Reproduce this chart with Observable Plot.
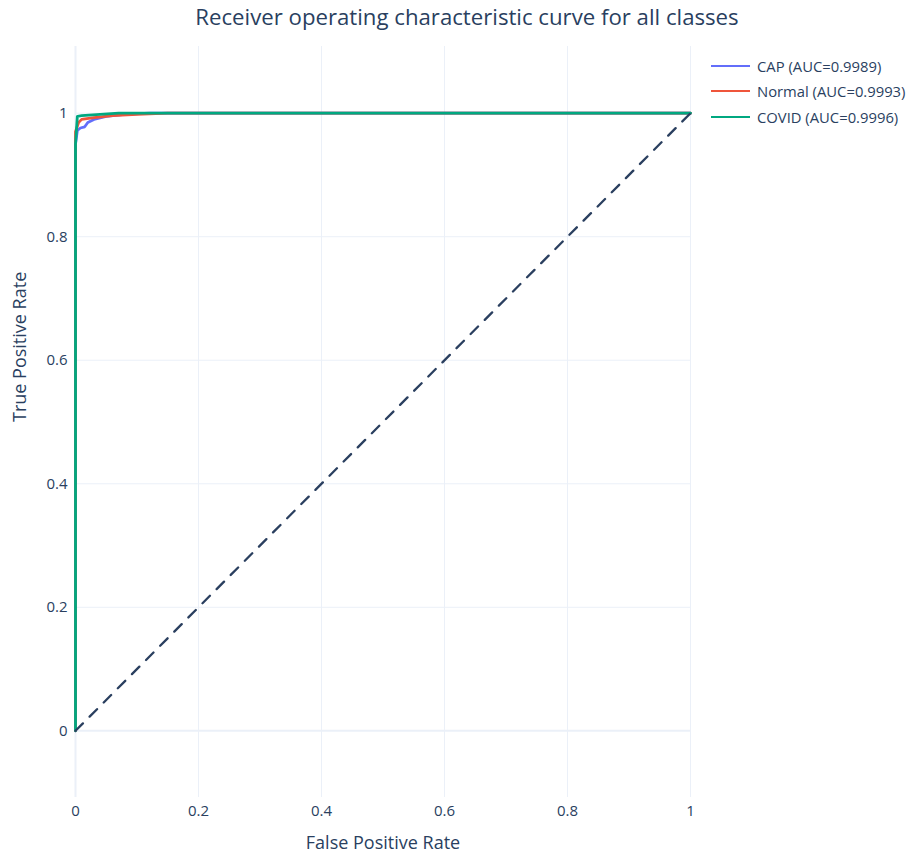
<!DOCTYPE html>
<html>
<head>
<meta charset="utf-8">
<script src="https://cdn.jsdelivr.net/npm/d3@7"></script>
<script src="https://cdn.jsdelivr.net/npm/@observablehq/plot@0.6"></script>
<style>
  body { margin: 0; background: #fff; font-family: "Open Sans", sans-serif; }
  #wrap { position: relative; width: 919px; height: 861px; }
  #title { position: absolute; top: 2px; left: 0; width: 934px; text-align: center; font-size: 22.2px; line-height: 30px; color: #2a3f5f; }
  #legend { position: absolute; left: 711px; top: 53px; font-size: 14.8px; color: #2a3f5f; }
  .row { height: 25.5px; display: flex; align-items: center; }
  .sw { width: 39px; height: 0; border-top: 2.5px solid; margin-right: 7px; }
</style>
</head>
<body>
<div id="wrap">
  <div id="title">Receiver operating characteristic curve for all classes</div>
  <div id="legend"></div>
</div>
<script>
const classes = ["CAP", "Normal", "COVID"];
const aucLabels = ["CAP (AUC=0.9989)", "Normal (AUC=0.9993)", "COVID (AUC=0.9996)"];
const colors = ["#636efa", "#EF553B", "#00a880"];

const capFpr = [0, 0, 0, 0.003, 0.008, 0.015, 0.02, 0.03, 0.05, 0.08, 0.12, 1];
const capTpr = [0, 0.6, 0.95, 0.972, 0.976, 0.978, 0.985, 0.99, 0.995, 0.998, 1, 1];
const normalFpr = [0, 0, 0, 0.005, 0.01, 0.03, 0.06, 0.1, 0.15, 1];
const normalTpr = [0, 0.9, 0.97, 0.985, 0.99, 0.993, 0.996, 0.998, 1, 1];
const covidFpr = [0, 0, 0.003, 0.01, 0.04, 0.07, 1];
const covidTpr = [0, 0.95, 0.995, 0.996, 0.998, 1, 1];

const xTicks = [0, 0.2, 0.4, 0.6, 0.8, 1];
const yTicks = [0, 0.2, 0.4, 0.6, 0.8, 1];
const diagonal = [[0, 0], [1, 1]];

const fprs = [capFpr, normalFpr, covidFpr];
const tprs = [capTpr, normalTpr, covidTpr];
const rows = [];
classes.forEach((c, i) => {
  fprs[i].forEach((f, j) => rows.push({cls: c, fpr: f, tpr: tprs[i][j]}));
});

const textColor = "#2a3f5f";
const gridColor = "#ebf0f8";

const chart = Plot.plot({
  width: 919,
  height: 861,
  marginTop: 46,
  marginLeft: 75,
  marginRight: 229,
  marginBottom: 64,
  style: {fontFamily: "Open Sans, sans-serif", color: textColor, background: "transparent"},
  x: {domain: [0, 1], axis: null},
  y: {domain: [-0.108, 1.108], axis: null},
  color: {domain: classes, range: colors},
  marks: [
    Plot.gridX(xTicks, {stroke: gridColor, strokeOpacity: 1, strokeWidth: d => d === 0 ? 2 : 1}),
    Plot.gridY(yTicks, {stroke: gridColor, strokeOpacity: 1, strokeWidth: d => d === 0 ? 2 : 1}),
    Plot.axisX(xTicks, {tickSize: 0, tickPadding: 8, fontSize: 15, tickFormat: d => String(d), fill: textColor, label: null}),
    Plot.axisY(yTicks, {tickSize: 0, tickPadding: 8, fontSize: 15, tickFormat: d => String(d), fill: textColor, label: null}),
    Plot.line(rows, {x: "fpr", y: "tpr", z: "cls", stroke: "cls", strokeWidth: 2.8, curve: "linear"}),
    Plot.line(diagonal, {x: d => d[0], y: d => d[1], stroke: textColor, strokeWidth: 2.3, strokeDasharray: "10.5,9.5"}),
    Plot.text(["False Positive Rate"], {frameAnchor: "bottom", dy: 51, fontSize: 18, fill: textColor}),
    Plot.text(["True Positive Rate"], {frameAnchor: "left", dx: -55, rotate: -90, fontSize: 18, fill: textColor})
  ]
});
document.getElementById("wrap").prepend(chart);

const legend = document.getElementById("legend");
aucLabels.forEach((l, i) => {
  const r = document.createElement("div");
  r.className = "row";
  const sw = document.createElement("div");
  sw.className = "sw";
  sw.style.borderTopColor = colors[i];
  const t = document.createElement("span");
  t.textContent = l;
  r.appendChild(sw);
  r.appendChild(t);
  legend.appendChild(r);
});
</script>
</body>
</html>
